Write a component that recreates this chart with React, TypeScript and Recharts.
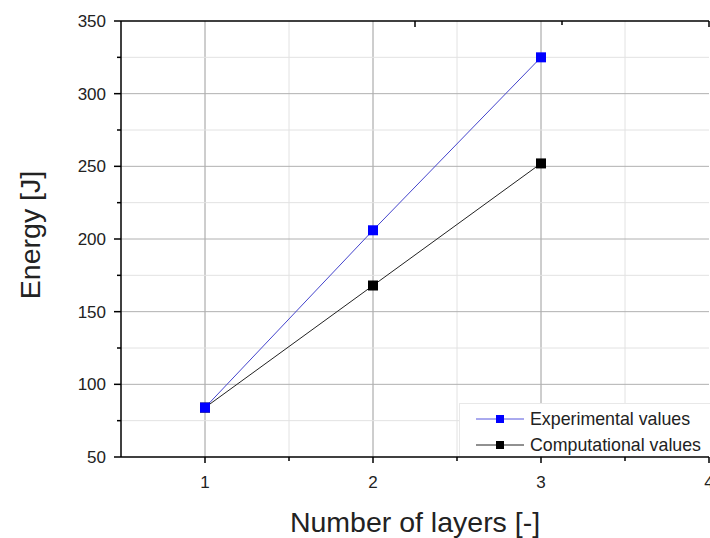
import React from "react";
import { LineChart, Line, XAxis, YAxis, ReferenceLine } from "recharts";

const layers = [1, 2, 3];
const experimental = [84, 206, 325];
const computational = [84, 168, 252];

const xTicks = [1, 1.5, 2, 2.5, 3, 3.5, 4];
const yTicks = [50, 75, 100, 125, 150, 175, 200, 225, 250, 275, 300, 325, 350];
const xGrid = [1, 1.5, 2, 2.5, 3, 3.5];
const yGrid = [75, 100, 125, 150, 175, 200, 225, 250, 275, 300, 325];

const legendItems = [
  { name: "Experimental values", color: "#0000ff", line: "#5555dd" },
  { name: "Computational values", color: "#000000", line: "#222222" },
];

const FONT = "'Liberation Sans', Arial, sans-serif";

const data = layers.map((l, i) => ({
  layers: l,
  experimental: experimental[i],
  computational: computational[i],
}));

const isMajorX = (v: number) => Number.isInteger(v);
const isMajorY = (v: number) => v % 50 === 0;

const BottomTick = (props: any) => {
  const { x, y, payload } = props;
  const major = isMajorX(payload.value);
  return (
    <g>
      <line x1={x} x2={x} y1={y} y2={y + (major ? 6 : 4)} stroke="#000" strokeWidth={1.5} />
      {major && (
        <text x={x} y={y + 31} textAnchor="middle" fontSize={17} fontFamily={FONT} fill="#222">
          {payload.value}
        </text>
      )}
    </g>
  );
};

const TopTick = (props: any) => {
  const { x, y, payload } = props;
  const major = isMajorX(payload.value);
  return <line x1={x} x2={x} y1={y} y2={y + (major ? 6 : 4)} stroke="#000" strokeWidth={1.5} />;
};

const LeftTick = (props: any) => {
  const { x, y, payload } = props;
  const major = isMajorY(payload.value);
  return (
    <g>
      <line x1={x - (major ? 7 : 4)} x2={x} y1={y} y2={y} stroke="#000" strokeWidth={1.5} />
      {major && (
        <text x={x - 15} y={y + 6} textAnchor="end" fontSize={17} fontFamily={FONT} fill="#222">
          {payload.value}
        </text>
      )}
    </g>
  );
};

const square = (color: string) => (p: any) => (
  <rect key={`sq-${p.index}`} x={p.cx - 5} y={p.cy - 5} width={10} height={10} fill={color} />
);

export default function App() {
  return (
    <div style={{ position: "absolute", left: 0, top: 0, width: 710, height: 538, background: "#fff" }}>
      <LineChart width={710} height={538} data={data} margin={{ top: 0, right: 1, left: 0, bottom: 0 }}>
        <XAxis
          dataKey="layers"
          type="number"
          domain={[0.5, 4]}
          ticks={xTicks}
          interval={0}
          tickSize={0}
          tickMargin={0}
          tick={<BottomTick />}
          height={81}
          axisLine={{ stroke: "#000", strokeWidth: 1.5 }}
          label={{
            content: (p: any) => (
              <text
                x={p.viewBox.x + p.viewBox.width / 2}
                y={p.viewBox.y + 75}
                textAnchor="middle"
                fontSize={28.5}
                fontFamily={FONT}
                fill="#222"
              >
                Number of layers [-]
              </text>
            ),
          }}
        />
        <XAxis
          xAxisId="top"
          orientation="top"
          type="number"
          domain={[0.5, 4]}
          ticks={xTicks}
          interval={0}
          tickSize={0}
          tickMargin={0}
          tick={<TopTick />}
          height={21}
          axisLine={{ stroke: "#000", strokeWidth: 1.5 }}
        />
        <YAxis
          type="number"
          domain={[50, 350]}
          ticks={yTicks}
          interval={0}
          tickSize={0}
          tickMargin={0}
          tick={<LeftTick />}
          width={121}
          axisLine={{ stroke: "#000", strokeWidth: 1.5 }}
          label={{
            content: (p: any) => {
              const cy = p.viewBox.y + p.viewBox.height / 2 - 4;
              return (
                <text
                  x={30}
                  y={cy}
                  transform={`rotate(-90, 30, ${cy})`}
                  textAnchor="middle"
                  dominantBaseline="central"
                  fontSize={28.5}
                  fontFamily={FONT}
                  fill="#222"
                >
                  Energy [J]
                </text>
              );
            },
          }}
        />
        {xGrid.map((v) => (
          <ReferenceLine key={`gx-${v}`} x={v} stroke={isMajorX(v) ? "#9c9c9c" : "#e2e2e2"} strokeWidth={1} />
        ))}
        {yGrid.map((v) => (
          <ReferenceLine key={`gy-${v}`} y={v} stroke={isMajorY(v) ? "#b0b0b0" : "#e2e2e2"} strokeWidth={1} />
        ))}
        <Line
          dataKey="computational"
          type="linear"
          stroke="#222"
          strokeWidth={1}
          dot={square("#000")}
          activeDot={false}
          isAnimationActive={false}
        />
        <Line
          dataKey="experimental"
          type="linear"
          stroke="#4444cc"
          strokeWidth={1}
          dot={square("#0000ff")}
          activeDot={false}
          isAnimationActive={false}
        />
      </LineChart>
      <div
        style={{
          position: "absolute",
          left: 459,
          top: 403,
          width: 251,
          height: 53,
          background: "#fff",
          borderTop: "1px solid #e8e8e8",
          borderLeft: "1px solid #e8e8e8",
          boxSizing: "border-box",
          fontFamily: FONT,
          fontSize: 17.8,
          color: "#222",
        }}
      >
        {legendItems.map((it, i) => (
          <div
            key={it.name}
            style={{ position: "absolute", left: 16, top: 4 + i * 26, height: 22, display: "flex", alignItems: "center" }}
          >
            <svg width={50} height={22}>
              <line x1={0} x2={48} y1={11} y2={11} stroke={it.line} strokeWidth={1} />
              <rect x={20} y={7} width={8} height={8} fill={it.color} />
            </svg>
            <span style={{ marginLeft: 4, whiteSpace: "nowrap" }}>{it.name}</span>
          </div>
        ))}
      </div>
    </div>
  );
}
